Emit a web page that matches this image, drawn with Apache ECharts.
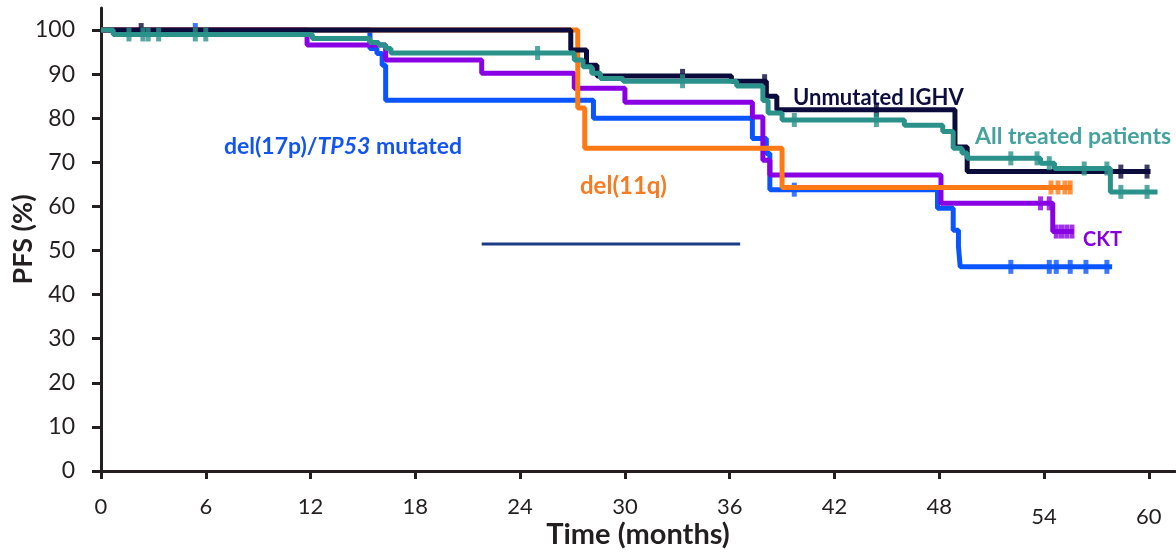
<!DOCTYPE html>
<html>
<head>
<meta charset="utf-8">
<script src="https://cdn.jsdelivr.net/npm/echarts@6/dist/echarts.min.js"></script>
<style>
html,body{margin:0;padding:0;background:#fff;}
#chart{width:1176px;height:552px;}
</style>
</head>
<body>
<div id="chart"></div>
<script>
// ---- Data ----
const xTicks = [0, 6, 12, 18, 24, 30, 36, 42, 48, 54, 60];
const yTicks = [0, 10, 20, 30, 40, 50, 60, 70, 80, 90, 100];

// del(17p)/TP53 mutated (blue)
const blueT = [0, 15.4, 15.8, 16.1, 16.3, 28.2, 37.3, 38.1, 38.3, 47.9, 48.8, 49.1, 49.2, 57.9];
const blueS = [100, 95.8, 94.7, 92, 84.1, 80, 75.4, 72, 63.8, 59.6, 54.6, 50.9, 46.3, 46.3];
const blueCens = [5.4, 39.7, 52.1, 54.3, 54.7, 55.5, 56.4, 57.6];

// del(11q) (orange)
const orangeT = [0, 27.3, 27.7, 39.0, 55.6];
const orangeS = [100, 82.3, 73.2, 64.3, 64.3];
const orangeCens = [54.4, 54.8, 55.2, 55.5];

// CKT (purple)
const purpleT = [0, 11.8, 16.3, 21.8, 27.1, 30.0, 37.3, 37.9, 38.3, 48.1, 54.5, 55.7];
const purpleS = [100, 96.6, 93.2, 90.2, 86.8, 83.6, 80.3, 70.5, 67.1, 60.7, 54.3, 54.3];
const purpleCens = [53.8, 54.3, 54.7, 55.0, 55.3, 55.6];

// Unmutated IGHV (navy)
const navyT = [0, 26.9, 27.8, 28.4, 36.1, 38.1, 38.7, 48.9, 49.6, 60.1];
const navyS = [100, 95.5, 92, 89.6, 88.4, 85, 81.9, 73.5, 67.9, 67.9];
const navyCens = [2.3, 33.3, 38.0, 44.4, 58.4, 59.9];

// All treated patients (teal)
const tealT = [0, 0.7, 12.1, 15.4, 15.9, 16.3, 16.6, 27.1, 27.6, 28.1, 28.6, 29.9, 36.4, 37.9, 38.2, 39.0, 46.0, 48.2, 48.8, 49.3, 49.6, 53.8, 54.6, 57.8, 60.5];
const tealS = [100, 99, 98.1, 97.2, 96.6, 95.8, 94.8, 93.2, 91.7, 90.2, 89, 88.4, 87.3, 84, 81.2, 79.6, 78.4, 77, 73.2, 72.1, 70.9, 69.8, 68.6, 63.3, 63.3];
const tealCens = [1.6, 2.4, 2.7, 3.3, 5.4, 6.0, 25.0, 33.3, 39.7, 44.4, 52.1, 53.6, 54.3, 56.3, 57.6, 58.4, 59.9];

// stray horizontal segment present in the reference
const strayT = [21.8, 36.6];
const strayS = [51.5, 51.5];

// ---- helpers ----
function pairs(t, s) { return t.map((v, i) => [v, s[i]]); }
function survAt(t, s, x) {
  let v = s[0];
  for (let i = 0; i < t.length; i++) { if (t[i] <= x) v = s[i]; }
  return v;
}
function cens(t, s, c) { return c.map(x => [x, survAt(t, s, x)]); }

const C = {
  blue: '#0a55ff', orange: '#ff7a14', purple: '#8a00e4', navy: '#0b0b3c', teal: '#2a918b'
};

function stepSeries(name, t, s, color, z) {
  return {
    name, type: 'line', step: 'end', data: pairs(t, s), showSymbol: false,
    lineStyle: { color, width: 5 }, itemStyle: { color }, z, silent: true
  };
}
function censSeries(name, t, s, c, color, z) {
  return {
    name: name + ' censored', type: 'scatter', data: cens(t, s, c),
    symbol: 'rect', symbolSize: [5, 14], itemStyle: { color }, z, silent: true
  };
}

const axisColor = '#231f20';
const FONT = 'Lato, sans-serif';
const chart = echarts.init(document.getElementById('chart'), null, { renderer: 'canvas' });

chart.setOption({
  animation: false,
  backgroundColor: '#ffffff',
  grid: { left: 101, right: 1, top: 8, bottom: 81, containLabel: false, outerBoundsMode: 'none' },
  xAxis: {
    type: 'value', min: 0, max: 61.5, interval: 6,
    name: 'Time (months)', nameLocation: 'middle', nameGap: 49, nameMoveOverlap: false,
    nameTextStyle: { fontFamily: FONT, fontWeight: 'bold', fontSize: 29, color: axisColor },
    axisLine: { show: true, onZero: false, lineStyle: { color: axisColor, width: 3 } },
    axisTick: { show: true, length: 8, lineStyle: { color: axisColor, width: 3 }, customValues: xTicks },
    axisLabel: {
      customValues: xTicks, margin: 25, fontSize: 22, color: axisColor, fontFamily: FONT,
      formatter: v => (v >= 54 ? '{low|' + v + '}' : String(v)),
      rich: { low: { fontSize: 22, color: axisColor, padding: [10, 0, 0, 0], fontFamily: FONT } }
    },
    splitLine: { show: false }
  },
  yAxis: {
    type: 'value', min: 0, max: 105, interval: 10,
    name: 'PFS (%)', nameLocation: 'middle', nameGap: 64, nameRotate: 90, nameMoveOverlap: false,
    nameTextStyle: { fontFamily: FONT, fontWeight: 'bold', fontSize: 27, color: axisColor },
    axisLine: { show: true, lineStyle: { color: axisColor, width: 3 } },
    axisTick: { show: true, length: 9, lineStyle: { color: axisColor, width: 3 }, customValues: yTicks },
    axisLabel: { customValues: yTicks, margin: 26, fontSize: 23, color: axisColor, fontFamily: FONT },
    splitLine: { show: false }
  },
  series: [
    { name: 'stray', type: 'line', data: pairs(strayT, strayS), showSymbol: false, lineStyle: { color: '#1c3a86', width: 3 }, z: 1, silent: true },
    stepSeries('del(17p)/TP53 mutated', blueT, blueS, C.blue, 2),
    censSeries('del(17p)/TP53 mutated', blueT, blueS, blueCens, C.blue, 2),
    stepSeries('CKT', purpleT, purpleS, C.purple, 3),
    censSeries('CKT', purpleT, purpleS, purpleCens, C.purple, 3),
    stepSeries('del(11q)', orangeT, orangeS, C.orange, 4),
    censSeries('del(11q)', orangeT, orangeS, orangeCens, C.orange, 4),
    stepSeries('Unmutated IGHV', navyT, navyS, C.navy, 5),
    censSeries('Unmutated IGHV', navyT, navyS, navyCens, C.navy, 5),
    stepSeries('All treated patients', tealT, tealS, C.teal, 6),
    censSeries('All treated patients', tealT, tealS, tealCens, C.teal, 6)
  ],
  graphic: [
    { type: 'text', x: 793, y: 98, z: 20, style: { text: 'Unmutated IGHV', fill: '#0d0d40', font: 'bold 22px Lato, sans-serif', verticalAlign: 'middle' } },
    { type: 'text', x: 975, y: 137, z: 20, style: { text: 'All treated patients', fill: '#45a29d', font: 'bold 23px Lato, sans-serif', verticalAlign: 'middle' } },
    { type: 'text', x: 224, y: 147, z: 20, style: {
      text: '{a|del(17p)/}{b|TP53}{a| mutated}', verticalAlign: 'middle',
      rich: {
        a: { fill: '#1155ee', font: 'bold 23px Lato, sans-serif' },
        b: { fill: '#1155ee', font: 'italic bold 23px Lato, sans-serif' }
      } } },
    { type: 'text', x: 580, y: 186, z: 20, style: { text: 'del(11q)', fill: '#f57c22', font: 'bold 24px Lato, sans-serif', verticalAlign: 'middle' } },
    { type: 'text', x: 1083, y: 240, z: 20, style: { text: 'CKT', fill: '#8800dd', font: 'bold 20px Lato, sans-serif', verticalAlign: 'middle' } }
  ]
});
</script>
</body>
</html>
